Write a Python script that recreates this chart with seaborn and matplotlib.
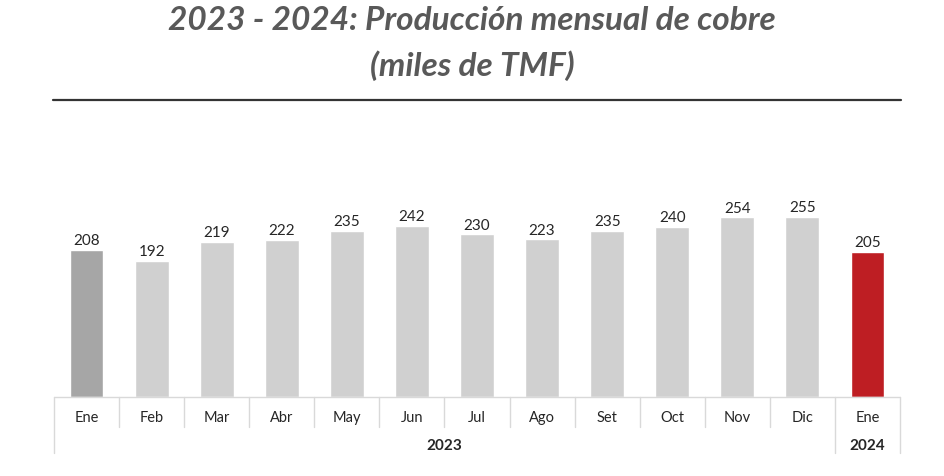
import numpy as np
import matplotlib
matplotlib.use("Agg")
from matplotlib import pyplot as plt
from matplotlib.transforms import blended_transform_factory
import seaborn as sns

#data
months = ['Ene', 'Feb', 'Mar', 'Abr', 'May', 'Jun', 'Jul', 'Ago', 'Set', 'Oct', 'Nov', 'Dic', 'Ene']
values = [208, 192, 219, 222, 235, 242, 230, 223, 235, 240, 254, 255, 205]
years = ['2023', '2024']
year_span = [(0, 11), (12, 12)]
bar_colors = ['#A6A6A6'] + ['#D0D0D0'] * 11 + ['#BE1E23']

sns.set_theme(style="white")
plt.rcParams['font.family'] = ['Lato', 'DejaVu Sans']

W, H = 944, 477
fig = plt.figure(figsize=(W / 100, H / 100), dpi=100)

#axes placed in pixel terms: x 54..900, baseline at y=398 (from top)
left, right, base, top = 54, 900, 398, 130
ax = fig.add_axes([left / W, (H - base) / H, (right - left) / W, (base - top) / H])

idx = list(range(len(values)))
sns.barplot(x=idx, y=values, hue=idx, palette=bar_colors, width=0.52,
            legend=False, saturation=1, ax=ax)
ax.set_xlim(-0.5, len(values) - 0.5)
ax.set_ylim(0, (base - top) / 0.707)
ax.axis('off')

for i, v in enumerate(values):
    ax.text(i, v + 4, str(v), ha='center', va='bottom', fontsize=11, color='#262626')

#table-like category axis below the bars
tr = blended_transform_factory(ax.transData, fig.transFigure)
def fy(px):
    return (H - px) / H

line_c = '#D9D9D9'
ax.plot([-0.5, len(values) - 0.5], [fy(398), fy(398)], transform=tr, color=line_c, lw=1, clip_on=False)
for b in np.arange(-0.5, len(values), 1.0):
    if b in (-0.5, 11.5, 12.5):
        y_end = 454
    else:
        y_end = 428
    ax.plot([b, b], [fy(398), fy(y_end)], transform=tr, color=line_c, lw=1, clip_on=False)

for i, m in enumerate(months):
    ax.text(i, fy(418), m, transform=tr, ha='center', va='center', fontsize=10.5, color='#262626')

for yr, (a, b) in zip(years, year_span):
    ax.text((a + b) / 2, fy(446), yr, transform=tr, ha='center', va='center',
            fontsize=11, fontweight='bold', color='#262626')

#title and rule
fig.text(0.5, fy(21), '2023 - 2024: Producción mensual de cobre', ha='center', va='center',
         fontsize=24, fontweight='bold', fontstyle='italic', color='#595959')
fig.text(0.5, fy(66), '(miles de TMF)', ha='center', va='center',
         fontsize=24, fontweight='bold', fontstyle='italic', color='#595959')
fig.add_artist(plt.Line2D([53 / W, 901 / W], [fy(101), fy(101)], color='#333333', lw=1.6))

fig.savefig('out.png', dpi=100, facecolor='white')
